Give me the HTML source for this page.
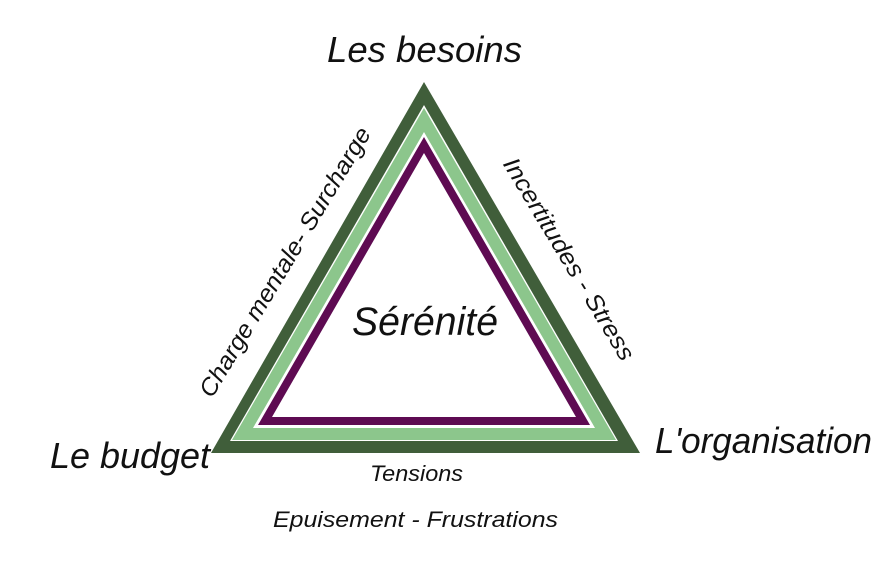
<!DOCTYPE html>
<html><head><meta charset="utf-8"><style>
html,body{margin:0;padding:0;background:#fff;}
svg{display:block}
text{font-family:"Liberation Sans Narrow","Liberation Sans",sans-serif;font-style:italic;fill:#111;}
</style></head><body>
<svg width="882" height="564" viewBox="0 0 882 564">
<polygon points="424,82 211,453 640,453" fill="#405e3a"/>
<polygon points="424,105 230,441 618,441" fill="#fff"/>
<polygon points="424,108 232,440 616,440" fill="#8cc68c"/>
<polygon points="424,132 253,428 595,428" fill="#fff"/>
<polygon points="424,137 258,425 590,425" fill="#5e0b52"/>
<polygon points="424,153 272,417 576,417" fill="#fff"/>
<text x="327" y="62" font-size="36" textLength="195" lengthAdjust="spacingAndGlyphs">Les besoins</text>
<text x="50" y="468" font-size="36" textLength="160" lengthAdjust="spacingAndGlyphs">Le budget</text>
<text x="655" y="453" font-size="36" textLength="217" lengthAdjust="spacingAndGlyphs">L'organisation</text>
<text x="352" y="335" font-size="40" textLength="146" lengthAdjust="spacingAndGlyphs">Sérénité</text>
<text x="370" y="481" font-size="22" textLength="93" lengthAdjust="spacingAndGlyphs">Tensions</text>
<text x="273" y="527" font-size="22" textLength="285" lengthAdjust="spacingAndGlyphs">Epuisement - Frustrations</text>
<g transform="translate(285,262) rotate(-59)">
<text x="-155" y="8" font-size="24" textLength="310" lengthAdjust="spacingAndGlyphs">Charge mentale- Surcharge</text>
</g>
<g transform="translate(569,259) rotate(59)">
<text x="-116" y="8" font-size="24" textLength="232" lengthAdjust="spacingAndGlyphs">Incertitudes - Stress</text>
</g>
</svg>
</body></html>
